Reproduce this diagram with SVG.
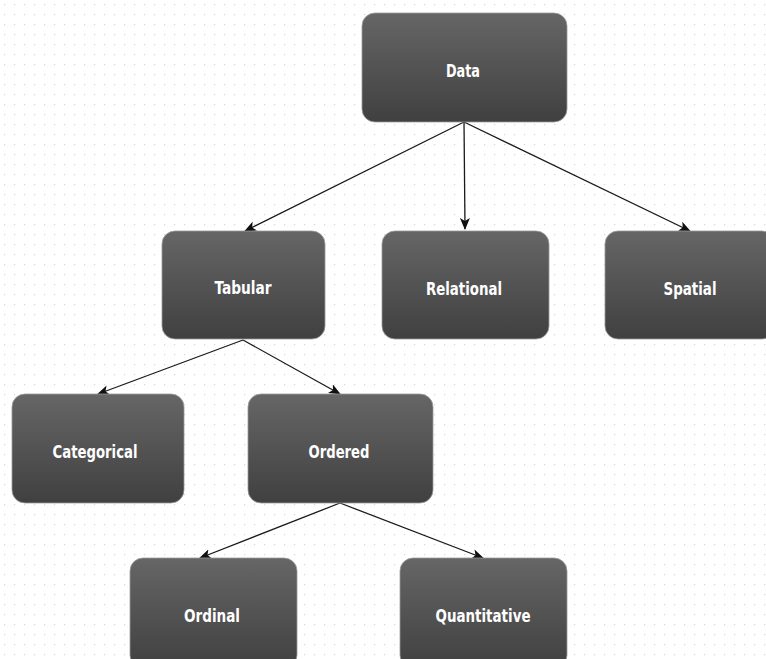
<svg xmlns="http://www.w3.org/2000/svg" width="766" height="659" viewBox="0 0 766 659">
  <defs>
    <pattern id="dots" x="0" y="0" width="10" height="10" patternUnits="userSpaceOnUse">
      <rect x="4" y="4" width="1.2" height="1.2" fill="#d4d4d4"/>
    </pattern>
    <linearGradient id="nodeGrad" x1="0" y1="0" x2="0" y2="1">
      <stop offset="0" stop-color="#666666"/>
      <stop offset="1" stop-color="#404040"/>
    </linearGradient>
    <marker id="arrow" viewBox="0 0 12 10" refX="11" refY="5" markerWidth="12" markerHeight="10" markerUnits="userSpaceOnUse" orient="auto">
      <path d="M0,0 L12,5 L0,10 L3,5 Z" fill="#111111"/>
    </marker>
  </defs>
  <style>
    .node rect { fill: url(#nodeGrad); stroke: #9a9a9a; stroke-width: 0.8; }
    .node text { fill: #ffffff; font-family: "DejaVu Sans Condensed", "Liberation Sans", sans-serif; font-weight: bold; font-size: 18px; text-anchor: middle; }
    .edge { stroke: #1a1a1a; stroke-width: 1.3; fill: none; marker-end: url(#arrow); }
  </style>
  <rect width="766" height="659" fill="#ffffff"/>
  <rect width="766" height="659" fill="url(#dots)"/>

  <g id="connectors">
    <line class="edge" x1="464" y1="122" x2="245" y2="231"/>
    <line class="edge" x1="464" y1="122" x2="465" y2="229"/>
    <line class="edge" x1="464" y1="122" x2="690" y2="231"/>
    <line class="edge" x1="243" y1="340" x2="98" y2="394"/>
    <line class="edge" x1="243" y1="340" x2="340" y2="394"/>
    <line class="edge" x1="340" y1="503" x2="200" y2="558"/>
    <line class="edge" x1="340" y1="503" x2="483" y2="558"/>
  </g>

  <g id="node-data" class="node">
    <rect x="362" y="13" width="205" height="109" rx="13"/>
    <text x="463" y="77" textLength="34" lengthAdjust="spacingAndGlyphs">Data</text>
  </g>
  <g id="node-tabular" class="node">
    <rect x="162" y="231" width="163" height="108" rx="13"/>
    <text x="243" y="294" textLength="57" lengthAdjust="spacingAndGlyphs">Tabular</text>
  </g>
  <g id="node-relational" class="node">
    <rect x="382" y="231" width="167" height="108" rx="13"/>
    <text x="464" y="295" textLength="76" lengthAdjust="spacingAndGlyphs">Relational</text>
  </g>
  <g id="node-spatial" class="node">
    <rect x="605" y="231" width="170" height="108" rx="13"/>
    <text x="690" y="295" textLength="53" lengthAdjust="spacingAndGlyphs">Spatial</text>
  </g>
  <g id="node-categorical" class="node">
    <rect x="12" y="394" width="172" height="109" rx="13"/>
    <text x="95" y="458" textLength="85" lengthAdjust="spacingAndGlyphs">Categorical</text>
  </g>
  <g id="node-ordered" class="node">
    <rect x="248" y="394" width="185" height="109" rx="13"/>
    <text x="339" y="458" textLength="61" lengthAdjust="spacingAndGlyphs">Ordered</text>
  </g>
  <g id="node-ordinal" class="node">
    <rect x="130" y="558" width="167" height="110" rx="13"/>
    <text x="212" y="622" textLength="56" lengthAdjust="spacingAndGlyphs">Ordinal</text>
  </g>
  <g id="node-quantitative" class="node">
    <rect x="400" y="558" width="167" height="110" rx="13"/>
    <text x="483" y="622" textLength="95" lengthAdjust="spacingAndGlyphs">Quantitative</text>
  </g>
</svg>
